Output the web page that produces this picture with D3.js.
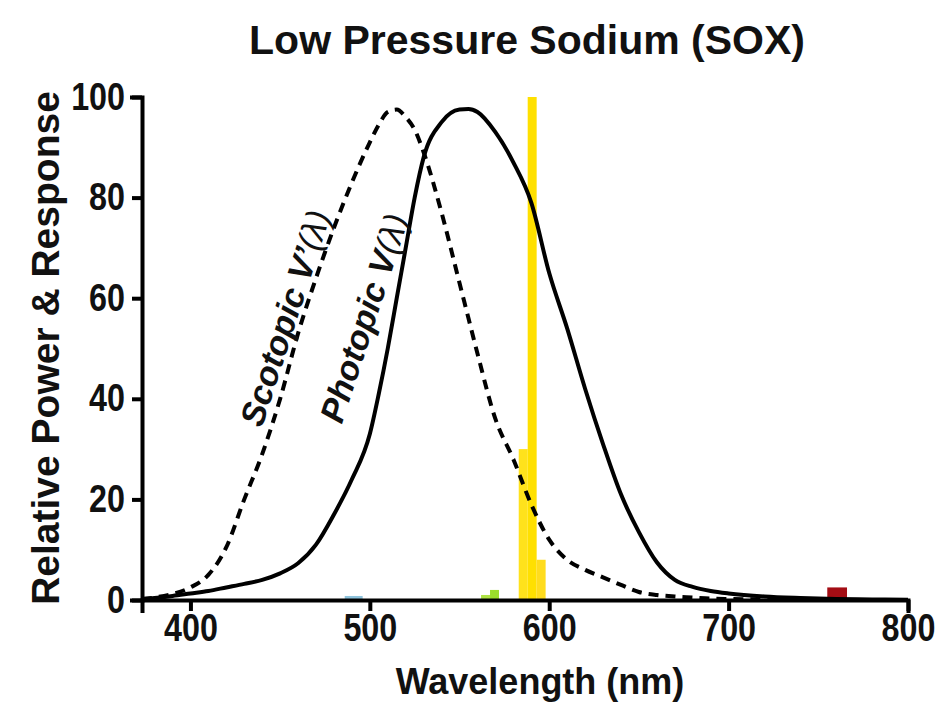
<!DOCTYPE html>
<html>
<head>
<meta charset="utf-8">
<script src="https://cdn.jsdelivr.net/npm/d3@7"></script>
<style>
body { margin: 0; background: #fff; }
text { font-family: "Liberation Sans", Arial, sans-serif; font-weight: bold; fill: #111; }
</style>
</head>
<body>
<svg id="chart" width="951" height="702"></svg>
<script>
// wavelength grid (nm) for both response curves
var wavelengths = [373, 380, 390, 400, 410, 420, 430, 440, 450, 460, 470, 480, 490, 500, 505, 510, 515, 520, 525, 530,
	540, 550, 555, 560, 570, 580, 590, 600, 610, 620, 630, 640, 650, 660, 670, 680, 690, 700, 720, 740, 760, 780, 800];
var photopic = [0.2, 0.4, 0.8, 1.3, 1.8, 2.5, 3.2, 4, 5.3, 7.3, 11, 17, 24, 33, 41, 50, 60, 70, 80, 88,
	95, 97.5, 97.6, 97, 93, 87, 79, 65, 54, 42, 31, 21, 13.5, 7.5, 4, 2.6, 1.8, 1.3, 0.7, 0.4, 0.2, 0.1, 0.05];
var scotopic = [0.2, 0.5, 1.2, 2.5, 5, 10.5, 20, 29, 40, 53, 64, 74, 83, 91, 94.5, 97, 97.5, 96, 93.5, 89,
	77, 63, 56, 49, 36, 28, 19, 12, 8, 6, 4.5, 3, 1.6, 1, 0.7, 0.5, 0.3, 0.2, 0.1, 0.05, 0, 0, 0];

// lamp spectrum bins
var binStart = [486, 562, 567, 583, 588, 593, 755];
var binEnd = [496, 567, 572, 588, 593, 598, 766];
var binPower = [0.8, 1, 2, 30, 100, 8, 2.5];
var binColors = ['#8ec3dc', '#b0e445', '#9bdc2c', '#ffe21c', '#ffe000', '#ffdc1e', '#a30d14'];

var xTicks = [400, 500, 600, 700, 800];
var yTicks = [0, 20, 40, 60, 80, 100];

var svg = d3.select('#chart');
var x = d3.scaleLinear().domain([373, 800]).range([142, 908]);
var y = d3.scaleLinear().domain([0, 100]).range([600, 97]);

// title
svg.append('text')
	.attr('x', 527).attr('y', 54)
	.attr('text-anchor', 'middle')
	.style('font-size', '41px')
	.text('Low Pressure Sodium (SOX)');

// spectrum bars
svg.selectAll('rect.bin').data(binPower).enter()
	.append('rect')
	.attr('class', 'bin')
	.attr('x', function (d, i) { return x(binStart[i]); })
	.attr('width', function (d, i) { return x(binEnd[i]) - x(binStart[i]); })
	.attr('y', function (d) { return y(d); })
	.attr('height', function (d) { return y(0) - y(d); })
	.attr('fill', function (d, i) { return binColors[i]; });

var line = d3.line()
	.x(function (d, i) { return x(wavelengths[i]); })
	.y(function (d) { return y(d); })
	.curve(d3.curveMonotoneX);

svg.append('path')
	.attr('d', line(scotopic))
	.attr('fill', 'none')
	.attr('stroke', '#000')
	.attr('stroke-width', 4)
	.attr('stroke-dasharray', '10,7');

svg.append('path')
	.attr('d', line(photopic))
	.attr('fill', 'none')
	.attr('stroke', '#000')
	.attr('stroke-width', 4);

// axes
var xAxis = svg.append('g')
	.attr('transform', 'translate(0,600)')
	.call(d3.axisBottom(x).tickValues(xTicks).tickSize(11).tickSizeOuter(11));
var yAxis = svg.append('g')
	.attr('transform', 'translate(142,0)')
	.call(d3.axisLeft(y).tickValues(yTicks).tickSize(10).tickSizeOuter(10));

var squeeze = 0.85;
[xAxis, yAxis].forEach(function (g) {
	g.select('.domain').attr('stroke', '#000').attr('stroke-width', 4).attr('stroke-linecap', 'square');
	g.selectAll('.tick line').attr('stroke', '#000').attr('stroke-width', 4);
	g.selectAll('.tick text')
		.style('font-size', '38px')
		.style('font-family', '"Liberation Sans", Arial, sans-serif')
		.attr('fill', '#111')
		.attr('transform', 'scale(' + squeeze + ',1)');
});
xAxis.selectAll('.tick text').attr('y', 14);
yAxis.selectAll('.tick text').attr('x', -17 / squeeze);

// axis titles
svg.append('text')
	.attr('x', 540).attr('y', 694)
	.attr('text-anchor', 'middle')
	.style('font-size', '36px')
	.text('Wavelength (nm)');
svg.append('text')
	.attr('transform', 'translate(59,348) rotate(-90)')
	.attr('text-anchor', 'middle')
	.style('font-size', '39px')
	.text('Relative Power & Response');

// curve labels
function curveLabel(cx, cy, main) {
	var t = svg.append('text')
		.attr('transform', 'translate(' + cx + ',' + cy + ') rotate(-72)')
		.attr('text-anchor', 'middle')
		.attr('dy', '0.35em')
		.style('font-size', '34px')
		.style('font-style', 'italic');
	t.append('tspan').text(main);
	t.append('tspan').style('font-weight', 'normal').text('(λ)');
}
curveLabel(285, 318, 'Scotopic V\u2019');
curveLabel(364, 318, 'Photopic V');
</script>
</body>
</html>
